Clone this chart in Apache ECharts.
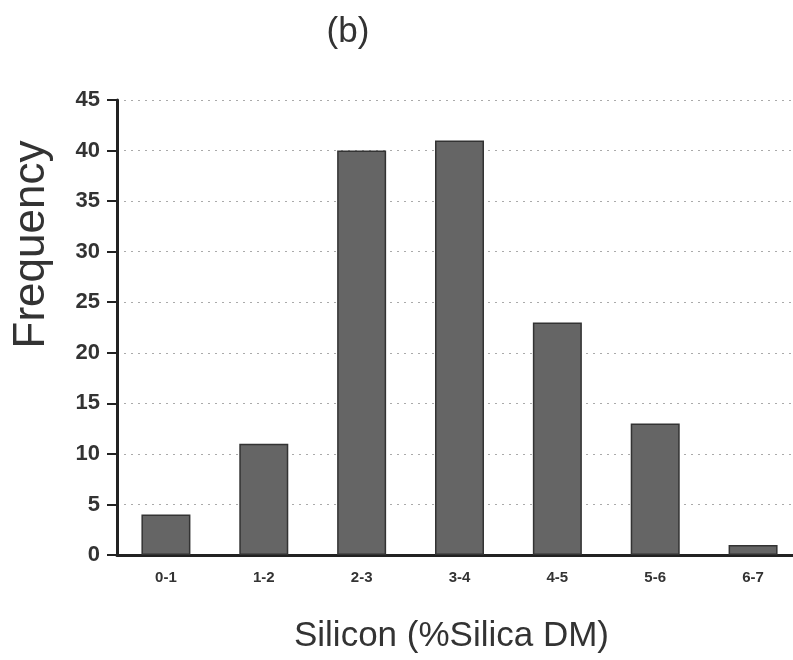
<!DOCTYPE html>
<html><head><meta charset="utf-8">
<script src="https://cdn.jsdelivr.net/npm/echarts@6/dist/echarts.min.js"></script>
<style>html,body{margin:0;padding:0;background:#fff;overflow:hidden;width:793px;height:660px}#c{width:810px;height:660px}</style>
</head><body><div id="c"></div>
<script>
const categories = ['0-1','1-2','2-3','3-4','4-5','5-6','6-7'];
const frequency = [4, 11, 40, 41, 23, 13, 1];
const yTicks = [0,5,10,15,20,25,30,35,40,45];

const chart = echarts.init(document.getElementById('c'));
chart.setOption({
  animation: false,
  backgroundColor: '#fff',
  title: {
    text: '(b)', left: 343, top: 10, textAlign: 'center',
    textStyle: {fontFamily: 'Liberation Sans', fontSize: 35, fontWeight: 'normal', color: '#333'}
  },
  grid: {left: 117, right: 8, top: 100, height: 455},
  xAxis: {
    type: 'category', data: categories,
    axisLine: {lineStyle: {color: '#222', width: 3}},
    axisTick: {show: false},
    axisLabel: {margin: 15, fontFamily: 'Liberation Sans', fontSize: 15, fontWeight: 'bold', color: '#333'},
    name: 'Silicon (%Silica DM)', nameLocation: 'middle', nameGap: 64,
    nameTextStyle: {fontFamily: 'Liberation Sans', fontSize: 35, color: '#333', padding: [0, 16, 0, 0]}
  },
  yAxis: {
    type: 'value', min: 0, max: 45, interval: 5,
    axisLine: {show: true, lineStyle: {color: '#222', width: 3}},
    axisTick: {show: true, inside: false, length: 10, lineStyle: {color: '#222', width: 2}},
    axisLabel: {margin: 17, fontFamily: 'Liberation Sans', fontSize: 22, fontWeight: 'bold', color: '#333',
      formatter: v => yTicks.includes(v) ? String(v) : ''},
    splitLine: {show: true, lineStyle: {color: '#aaa', type: [2, 5], width: 1}},
    name: 'Frequency', nameLocation: 'middle', nameGap: 63, nameRotate: 90,
    nameTextStyle: {fontFamily: 'Liberation Sans', fontSize: 44, color: '#333', padding: [0, 0, 0, 166]}
  },
  series: [{
    type: 'bar', data: frequency, barWidth: 49,
    itemStyle: {color: '#656565', borderColor: '#333', borderWidth: 1.5}
  }]
});
</script></body></html>
